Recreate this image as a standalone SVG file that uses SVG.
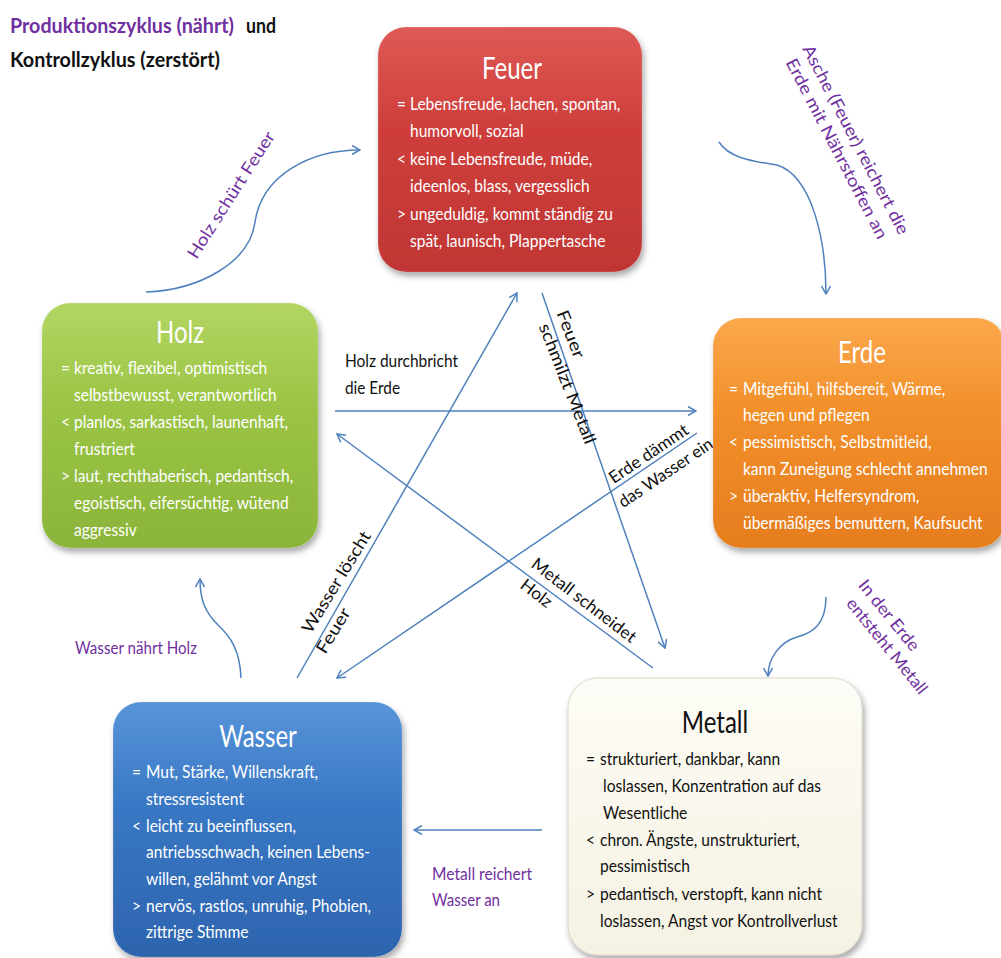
<svg xmlns="http://www.w3.org/2000/svg" width="1001" height="958" viewBox="0 0 1001 958">
<defs>
<style>
text{font-family:Lato,"Liberation Sans",sans-serif}
.b{font-size:17.5px;fill:#fff}
.bk{font-size:17.5px;fill:#111}
.t{font-size:30px;fill:#fff;text-anchor:middle}
.tk{font-size:30px;fill:#111;text-anchor:middle}
.lp{font-size:17px;fill:#7030a0}
.lk{font-size:17px;fill:#111}
.m{text-anchor:middle}
.ln{fill:none;stroke:#4f81bd;stroke-width:1.5}
.ar{marker-end:url(#ah)}
.gl{fill:url(#gloss)}
</style>
<linearGradient id="gR" x1="0" y1="0" x2="0" y2="1"><stop offset="0" stop-color="#d9443f"/><stop offset="1" stop-color="#bf3635"/></linearGradient>
<linearGradient id="gG" x1="0" y1="0" x2="0" y2="1"><stop offset="0" stop-color="#a8d04e"/><stop offset="1" stop-color="#8ab53a"/></linearGradient>
<linearGradient id="gO" x1="0" y1="0" x2="0" y2="1"><stop offset="0" stop-color="#fa9c34"/><stop offset="1" stop-color="#e67d1e"/></linearGradient>
<linearGradient id="gB" x1="0" y1="0" x2="0" y2="1"><stop offset="0" stop-color="#4185d3"/><stop offset="1" stop-color="#2d64ae"/></linearGradient>
<linearGradient id="gC" x1="0" y1="0" x2="0" y2="1"><stop offset="0" stop-color="#fdfcf5"/><stop offset="1" stop-color="#f5f2e3"/></linearGradient>
<linearGradient id="gloss" x1="0" y1="0" x2="0" y2="1"><stop offset="0" stop-color="#fff" stop-opacity="0.12"/><stop offset="0.4" stop-color="#fff" stop-opacity="0"/></linearGradient>
<filter id="sh" x="-10%" y="-10%" width="125%" height="125%"><feDropShadow dx="2" dy="4" stdDeviation="3" flood-color="#000" flood-opacity="0.35"/></filter>
<marker id="ah" viewBox="0 0 10 10" refX="9" refY="5" markerWidth="10" markerHeight="10" markerUnits="userSpaceOnUse" orient="auto"><path d="M1,0.5 L9,5 L1,9.5" fill="none" stroke="#4f81bd" stroke-width="1.5"/></marker>
</defs>
<rect width="1001" height="958" fill="#fff"/>

<g id="title">
<text x="10" y="33" font-size="21" font-weight="bold" fill="#7030a0" textLength="224" lengthAdjust="spacingAndGlyphs">Produktionszyklus (nährt)</text>
<text x="246" y="33" font-size="21" font-weight="bold" fill="#111" textLength="30" lengthAdjust="spacingAndGlyphs">und</text>
<text x="10" y="67" font-size="21" font-weight="bold" fill="#111" textLength="210" lengthAdjust="spacingAndGlyphs">Kontrollzyklus (zerstört)</text>
</g>

<g id="connectors">
<path class="ln ar" d="M146,292 C200,290 250,262 255,222 C262,175 310,150 360,150"/>
<path class="ln ar" d="M719,142 C730,160 760,162 777,165 C812,176 826,240 826,294"/>
<path class="ln ar" d="M826,597 C826,625 812,633 797,637 C780,642 768,658 768,676"/>
<path class="ln ar" d="M542,830 L414,830"/>
<path class="ln ar" d="M241,678 C240,650 230,636 218,625 C205,612 200,600 200,579"/>
<path class="ln ar" d="M335,411 L696,411"/>
<path class="ln ar" d="M653,668 L337,434"/>
<path class="ln ar" d="M297,678 L517,293"/>
<path class="ln ar" d="M542,293 L665,648"/>
<path class="ln ar" d="M697,433 L337,678"/>
</g>

<g id="labels">
<text class="lp m" transform="translate(236,198) rotate(-57.4)" textLength="147" lengthAdjust="spacingAndGlyphs">Holz schürt Feuer</text>
<text class="lp m" transform="translate(850.6,142.3) rotate(62.5)" textLength="211" lengthAdjust="spacingAndGlyphs">Asche (Feuer) reichert die</text>
<text class="lp m" transform="translate(831.6,151.3) rotate(62.5)" textLength="201" lengthAdjust="spacingAndGlyphs">Erde mit Nährstoffen an</text>
<text class="lp m" transform="translate(884.6,619) rotate(51)" textLength="86" lengthAdjust="spacingAndGlyphs">In der Erde</text>
<text class="lp m" transform="translate(882.6,649.6) rotate(51)" textLength="118" lengthAdjust="spacingAndGlyphs">entsteht Metall</text>
<text class="lp" x="432" y="880" textLength="100" lengthAdjust="spacingAndGlyphs">Metall reichert</text>
<text class="lp" x="432" y="906" textLength="68" lengthAdjust="spacingAndGlyphs">Wasser an</text>
<text class="lp" x="75" y="654" textLength="122" lengthAdjust="spacingAndGlyphs">Wasser nährt Holz</text>
<text class="lk" x="345" y="367" textLength="113" lengthAdjust="spacingAndGlyphs">Holz durchbricht</text>
<text class="lk" x="345" y="394" textLength="55" lengthAdjust="spacingAndGlyphs">die Erde</text>
<text class="lk m" transform="translate(565.3,336.3) rotate(68.5)" textLength="50" lengthAdjust="spacingAndGlyphs">Feuer</text>
<text class="lk m" transform="translate(561.9,385.8) rotate(68.5)" textLength="128" lengthAdjust="spacingAndGlyphs">schmilzt Metall</text>
<text class="lk m" transform="translate(651.8,458.6) rotate(-34)" textLength="92" lengthAdjust="spacingAndGlyphs">Erde dämmt</text>
<text class="lk m" transform="translate(668.8,477.6) rotate(-34)" textLength="110" lengthAdjust="spacingAndGlyphs">das Wasser ein</text>
<text class="lk m" transform="translate(341.3,585.1) rotate(-58.5)" textLength="116" lengthAdjust="spacingAndGlyphs">Wasser löscht</text>
<text class="lk m" transform="translate(338.3,633.6) rotate(-58.5)" textLength="50" lengthAdjust="spacingAndGlyphs">Feuer</text>
<text class="lk m" transform="translate(580.5,605) rotate(37.5)" textLength="127" lengthAdjust="spacingAndGlyphs">Metall schneidet</text>
<text class="lk m" transform="translate(533,598) rotate(37.5)" textLength="35" lengthAdjust="spacingAndGlyphs">Holz</text>
</g>

<g id="feuer">
<rect x="378" y="27" width="264" height="245" rx="28" fill="url(#gR)" filter="url(#sh)"/>
<rect x="378" y="27" width="264" height="245" rx="28" class="gl" stroke="#fff" stroke-opacity="0.2"/>
<text class="t" transform="translate(512,79) scale(0.8,1)">Feuer</text>
<g transform="translate(397,0) scale(0.89,1)">
<text class="b" x="0" y="110">=</text><text class="b" x="14.6" y="110">Lebensfreude, lachen, spontan,</text>
<text class="b" x="14.6" y="137">humorvoll, sozial</text>
<text class="b" x="0" y="165">&lt;</text><text class="b" x="14.6" y="165">keine Lebensfreude, müde,</text>
<text class="b" x="14.6" y="192">ideenlos, blass, vergesslich</text>
<text class="b" x="0" y="220">&gt;</text><text class="b" x="14.6" y="220">ungeduldig, kommt ständig zu</text>
<text class="b" x="14.6" y="247">spät, launisch, Plappertasche</text>
</g>
</g>

<g id="holz">
<rect x="42" y="303" width="276" height="245" rx="28" fill="url(#gG)" filter="url(#sh)"/>
<rect x="42" y="303" width="276" height="245" rx="28" class="gl" stroke="#fff" stroke-opacity="0.2"/>
<text class="t" transform="translate(180,343) scale(0.8,1)">Holz</text>
<g transform="translate(61,0) scale(0.89,1)">
<text class="b" x="0" y="374">=</text><text class="b" x="14.6" y="374">kreativ, flexibel, optimistisch</text>
<text class="b" x="14.6" y="401">selbstbewusst, verantwortlich</text>
<text class="b" x="0" y="428">&lt;</text><text class="b" x="14.6" y="428">planlos, sarkastisch, launenhaft,</text>
<text class="b" x="14.6" y="455">frustriert</text>
<text class="b" x="0" y="482">&gt;</text><text class="b" x="14.6" y="482">laut, rechthaberisch, pedantisch,</text>
<text class="b" x="14.6" y="509">egoistisch, eifersüchtig, wütend</text>
<text class="b" x="14.6" y="536">aggressiv</text>
</g>
</g>

<g id="erde">
<rect x="713" y="318" width="292" height="230" rx="28" fill="url(#gO)" filter="url(#sh)"/>
<rect x="713" y="318" width="292" height="230" rx="28" class="gl" stroke="#fff" stroke-opacity="0.2"/>
<text class="t" transform="translate(862,363) scale(0.8,1)">Erde</text>
<g transform="translate(729,0) scale(0.89,1)">
<text class="b" x="0" y="395">=</text><text class="b" x="15.7" y="395">Mitgefühl, hilfsbereit, Wärme,</text>
<text class="b" x="15.7" y="421">hegen und pflegen</text>
<text class="b" x="0" y="448">&lt;</text><text class="b" x="15.7" y="448">pessimistisch, Selbstmitleid,</text>
<text class="b" x="15.7" y="475">kann Zuneigung schlecht annehmen</text>
<text class="b" x="0" y="502">&gt;</text><text class="b" x="15.7" y="502">überaktiv, Helfersyndrom,</text>
<text class="b" x="15.7" y="529">übermäßiges bemuttern, Kaufsucht</text>
</g>
</g>

<g id="wasser">
<rect x="113" y="702" width="289" height="255" rx="28" fill="url(#gB)" filter="url(#sh)"/>
<rect x="113" y="702" width="289" height="255" rx="28" class="gl" stroke="#fff" stroke-opacity="0.2"/>
<text class="t" transform="translate(258,747) scale(0.8,1)">Wasser</text>
<g transform="translate(132,0) scale(0.89,1)">
<text class="b" x="0" y="778">=</text><text class="b" x="15.7" y="778">Mut, Stärke, Willenskraft,</text>
<text class="b" x="15.7" y="805">stressresistent</text>
<text class="b" x="0" y="832">&lt;</text><text class="b" x="15.7" y="832">leicht zu beeinflussen,</text>
<text class="b" x="15.7" y="858">antriebsschwach, keinen Lebens-</text>
<text class="b" x="15.7" y="885">willen, gelähmt vor Angst</text>
<text class="b" x="0" y="912">&gt;</text><text class="b" x="15.7" y="912">nervös, rastlos, unruhig, Phobien,</text>
<text class="b" x="15.7" y="938">zittrige Stimme</text>
</g>
</g>

<g id="metall">
<rect x="568" y="678" width="294" height="277" rx="30" fill="url(#gC)" stroke="#d8d5c8" filter="url(#sh)"/>
<rect x="568" y="678" width="294" height="277" rx="30" class="gl"/>
<text class="tk" transform="translate(715,733) scale(0.8,1)">Metall</text>
<g transform="translate(586,0) scale(0.89,1)">
<text class="bk" x="0" y="765">=</text><text class="bk" x="15.7" y="765">strukturiert, dankbar, kann</text>
<text class="bk" x="19.1" y="792">loslassen, Konzentration auf das</text>
<text class="bk" x="19.1" y="819">Wesentliche</text>
<text class="bk" x="0" y="846">&lt;</text><text class="bk" x="15.7" y="846">chron. Ängste, unstrukturiert,</text>
<text class="bk" x="15.7" y="872">pessimistisch</text>
<text class="bk" x="0" y="900">&gt;</text><text class="bk" x="15.7" y="900">pedantisch, verstopft, kann nicht</text>
<text class="bk" x="15.7" y="927">loslassen, Angst vor Kontrollverlust</text>
</g>
</g>
</svg>
